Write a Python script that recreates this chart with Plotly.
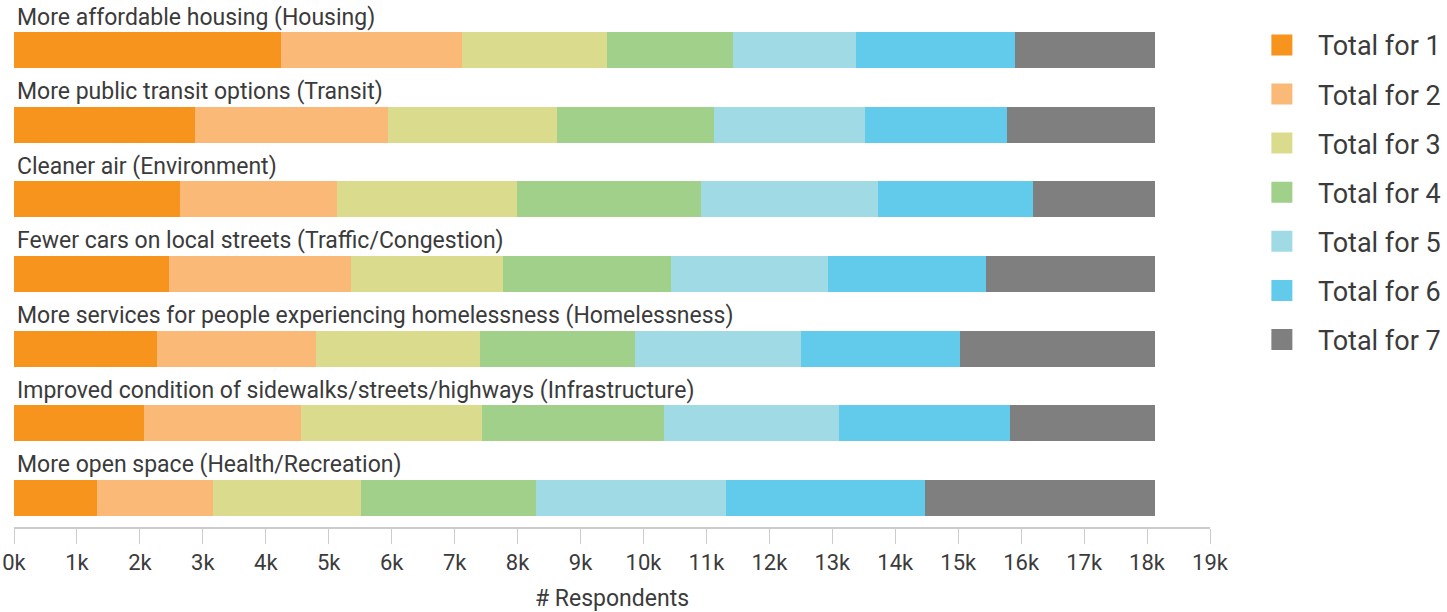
import plotly.graph_objects as go

categories = [
    "More affordable housing (Housing)",
    "More public transit options (Transit)",
    "Cleaner air (Environment)",
    "Fewer cars on local streets (Traffic/Congestion)",
    "More services for people experiencing homelessness (Homelessness)",
    "Improved condition of sidewalks/streets/highways (Infrastructure)",
    "More open space (Health/Recreation)",
]

series_names = ["Total for 1", "Total for 2", "Total for 3", "Total for 4",
                "Total for 5", "Total for 6", "Total for 7"]

total_1 = [4244, 2882, 2633, 2456, 2274, 2067, 1325]
total_2 = [2869, 3059, 2493, 2894, 2529, 2493, 1837]
total_3 = [2308, 2686, 2869, 2421, 2603, 2870, 2346]
total_4 = [1995, 2490, 2922, 2666, 2466, 2897, 2786]
total_5 = [1964, 2402, 2802, 2493, 2632, 2779, 3023]
total_6 = [2529, 2256, 2463, 2506, 2530, 2719, 3149]
total_7 = [2220, 2354, 1947, 2693, 3095, 2304, 3659]

series_values = [total_1, total_2, total_3, total_4, total_5, total_6, total_7]

colors = ["#F7941E", "#FBB978", "#DBDB8D", "#A0D08A", "#A0DAE5", "#62CBEC", "#7F7F7F"]

tick_values = [i * 1000 for i in range(20)]
tick_labels = [f"{i}k" for i in range(20)]

FONT = "Roboto"
TEXT_COLOR = "#3b3b3b"

fig = go.Figure()

for name, vals, col in zip(series_names, series_values, colors):
    fig.add_trace(go.Bar(
        name=name, y=categories, x=vals, orientation="h",
        marker=dict(color=col, line=dict(width=0)),
        width=0.48, showlegend=False,
        hovertemplate="%{y}<br>" + name + ": %{x}<extra></extra>",
    ))

# legend-only entries with large square swatches
for i, (name, col) in enumerate(zip(series_names, colors)):
    fig.add_trace(go.Scatter(
        name=name, x=[None], y=[None], mode="markers",
        marker=dict(symbol="square", size=16, color=col, line=dict(color=col, width=5)),
        legendgroup=f"g{i}", showlegend=True, hoverinfo="skip",
    ))

for cat in categories:
    fig.add_annotation(
        x=0, y=cat, xref="x", yref="y", text=cat, showarrow=False,
        xanchor="left", yanchor="middle", xshift=1, yshift=33,
        font=dict(family=FONT, size=23, color=TEXT_COLOR),
    )

fig.update_layout(
    barmode="stack",
    width=1447, height=612,
    margin=dict(l=14, r=237, t=10, b=85, autoexpand=False),
    paper_bgcolor="white", plot_bgcolor="white",
    font=dict(family=FONT, size=22, color=TEXT_COLOR),
    legend=dict(
        x=1.03, xanchor="left", y=0.979, yanchor="top",
        font=dict(family=FONT, size=27, color=TEXT_COLOR),
        tracegroupgap=11, itemwidth=62,
    ),
    xaxis=dict(
        range=[0, 19000], tickvals=tick_values, ticktext=tick_labels,
        showgrid=False, zeroline=False, automargin=False,
        showline=True, linecolor="#cccccc", linewidth=2,
        ticks="outside", ticklen=15, tickcolor="#cccccc", tickwidth=1,
        tickfont=dict(family=FONT, size=22, color=TEXT_COLOR),
        title=dict(text="# Respondents", standoff=15,
                   font=dict(family=FONT, size=23, color=TEXT_COLOR)),
    ),
    yaxis=dict(
        type="category", categoryorder="array", categoryarray=categories,
        range=[6.39, -0.536], visible=False,
    ),
)

fig.write_html("out.html", config={"displayModeBar": False},
               post_script="document.body.style.margin='0';")
